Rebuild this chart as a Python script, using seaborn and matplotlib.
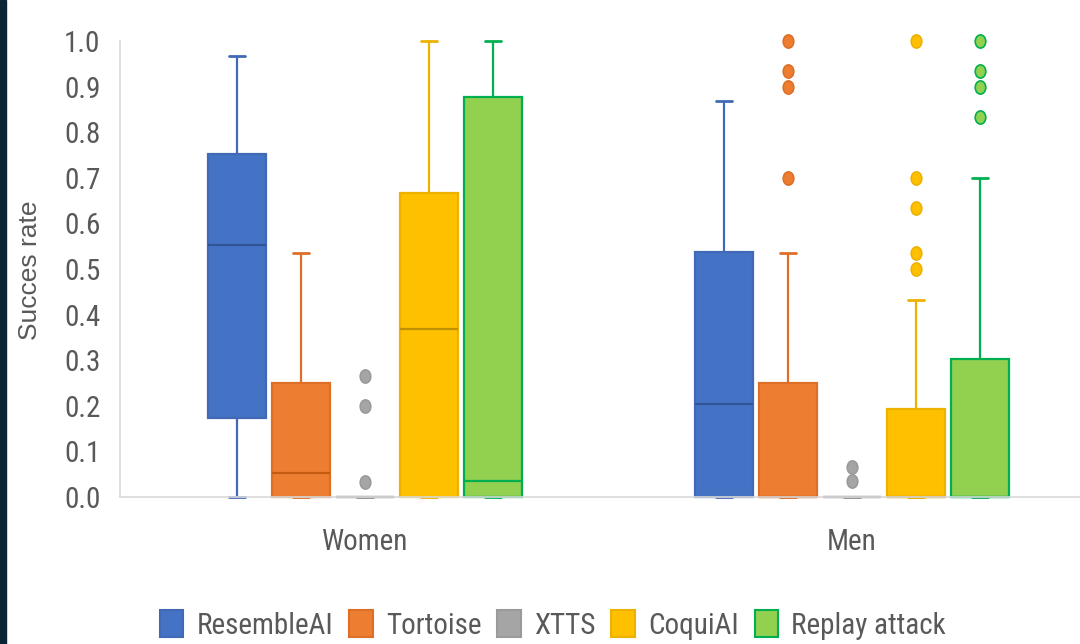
import numpy as np
import pandas as pd
import matplotlib
matplotlib.use("Agg")
import matplotlib.pyplot as plt
from matplotlib import font_manager
from matplotlib.patches import Patch, Rectangle
from matplotlib.path import Path
from matplotlib.transforms import Affine2D
import seaborn as sns

# ---- data: five-number summaries and outliers per voice-cloning method ----
groups = ["Women", "Men"]
methods = ["ResembleAI", "Tortoise", "XTTS", "CoquiAI", "Replay attack"]

women_lo = [0.0, 0.0, 0.0, 0.0, 0.0]
women_q1 = [0.173, 0.0, 0.0, 0.0, 0.0]
women_med = [0.553, 0.052, 0.0, 0.368, 0.035]
women_q3 = [0.752, 0.25, 0.0, 0.667, 0.877]
women_hi = [0.967, 0.535, 0.0, 1.0, 1.0]
women_out = [[], [], [0.265, 0.20, 0.033], [], []]

men_lo = [0.0, 0.0, 0.0, 0.0, 0.0]
men_q1 = [0.0, 0.0, 0.0, 0.0, 0.0]
men_med = [0.204, 0.0, 0.0, 0.0, 0.0]
men_q3 = [0.537, 0.25, 0.0, 0.193, 0.303]
men_hi = [0.868, 0.535, 0.0, 0.432, 0.70]
men_out = [[], [0.70, 0.90, 0.934, 1.0], [0.035, 0.065],
           [0.50, 0.535, 0.634, 0.70, 1.0], [0.833, 0.90, 0.934, 1.0]]

y_ticks = [0.0, 0.1, 0.2, 0.3, 0.4, 0.5, 0.6, 0.7, 0.8, 0.9, 1.0]

fills = ["#4472C4", "#ED7D31", "#A5A5A5", "#FFC000", "#92D050"]
edges = ["#4169B5", "#DE6F26", "#9A9A9A", "#EDB200", "#00B050"]
medians = ["#2F5597", "#C55A11", "#8A8A8A", "#BF9000", "#00B050"]

# Each box is built from its summary: quartile values are weighted so that
# the outliers leave the quartiles untouched.
WEIGHT = 40
rows = []
summaries = {
    "Women": (women_lo, women_q1, women_med, women_q3, women_hi, women_out),
    "Men": (men_lo, men_q1, men_med, men_q3, men_hi, men_out),
}
for g in groups:
    lo, q1, med, q3, hi, out = summaries[g]
    for i, m in enumerate(methods):
        vals = [lo[i]] + [q1[i]] * WEIGHT + [med[i]] * WEIGHT + [q3[i]] * WEIGHT + [hi[i]] + list(out[i])
        rows += [(g, m, v) for v in vals]
df = pd.DataFrame(rows, columns=["group", "method", "rate"])

# ---- style: prefer a condensed sans face, else Lato at a smaller size ----
sns.set_theme(style="white")
fonts = font_manager.fontManager.ttflist
names = {f.name for f in fonts}
condensed = None
for cand in ["Liberation Sans Narrow", "Roboto Condensed", "Open Sans Condensed"]:
    if cand in names:
        condensed = (cand, "normal")
        break
if condensed is None:
    for cand in ["Noto Sans", "DejaVu Sans", "Roboto", "Open Sans"]:
        if any(f.name == cand and f.stretch in ("condensed", "semi-condensed", 500, 300)
               for f in fonts):
            condensed = (cand, "condensed")
            break
if condensed is not None:
    main_family, main_stretch, main_size = condensed[0], condensed[1], 21
else:
    main_family, main_stretch, main_size = "Lato", "normal", 18.5
plt.rcParams["font.family"] = [main_family, "DejaVu Sans"]
plt.rcParams["font.stretch"] = main_stretch
text_color = "#595959"

fig = plt.figure(figsize=(10.8, 6.44), dpi=100)
fig.patch.set_facecolor("white")
ax = fig.add_axes([120 / 1080, 1 - 497 / 644, 960 / 1080, 456 / 644])

sns.boxplot(data=df, x="group", y="rate", hue="method", order=groups,
            hue_order=methods, palette=fills, width=0.657, gap=0.08,
            whis=1.5, linewidth=1.5, fliersize=9, legend=False, ax=ax)

ellipse = Path.unit_circle().transformed(Affine2D().scale(0.8, 1.0))
cap_half = 0.017
for i, cont in enumerate(ax.containers):
    for box in cont.boxes:
        box.set_facecolor(fills[i])
        box.set_edgecolor(edges[i])
        box.set_linewidth(1.6)
        box.set_clip_on(False)
    for ln in cont.whiskers:
        ln.set_color(edges[i])
        ln.set_linewidth(1.6)
        ln.set_clip_on(False)
    for ln in cont.caps:
        ln.set_color(edges[i])
        ln.set_linewidth(2.0)
        ln.set_clip_on(False)
        xd = np.asarray(ln.get_xdata(), dtype=float)
        c = xd.mean()
        ln.set_xdata([c - cap_half, c + cap_half])
    for ln in cont.medians:
        ln.set_color(medians[i])
        ln.set_linewidth(1.6)
        ln.set_clip_on(False)
    for ln in cont.fliers:
        ln.set_marker(ellipse)
        ln.set_markersize(9.5)
        ln.set_markerfacecolor(fills[i])
        ln.set_markeredgecolor(edges[i])
        ln.set_markeredgewidth(1.2)
        ln.set_clip_on(False)

ax.set_xlim(-0.503, 1.468)
ax.set_ylim(0, 1)
ax.set_yticks(y_ticks)
ax.set_yticklabels([f"{t:.1f}" for t in y_ticks])
ax.set_xlabel("")
ax.set_ylabel("")
ax.tick_params(axis="y", length=0, pad=14, labelsize=main_size, labelcolor=text_color)
ax.tick_params(axis="x", length=0, pad=22, labelsize=main_size, labelcolor=text_color)
for side in ["top", "right"]:
    ax.spines[side].set_visible(False)
ax.spines["left"].set_color("#D9D9D9")
ax.spines["bottom"].set_color("#D9D9D9")
ax.spines["left"].set_linewidth(1.2)
ax.spines["bottom"].set_linewidth(1.2)
ax.set_facecolor("white")

fig.text(30 / 1080, 1 - 270 / 644, "Succes rate", rotation=90, ha="center",
         va="center", fontsize=19, color=text_color, fontstretch="normal",
         family=["Liberation Sans", "DejaVu Sans"])

handles = [Patch(facecolor=fills[i], edgecolor=edges[i], linewidth=1.5, label=m)
           for i, m in enumerate(methods)]
fig.legend(handles=handles, loc="center", bbox_to_anchor=(553 / 1080, 1 - 625 / 644),
           ncol=5, frameon=False, fontsize=main_size, labelcolor=text_color,
           handlelength=0.8, handleheight=1.05, handletextpad=0.45, columnspacing=0.55)

# dark border strip along the left edge
fig.patches.append(Rectangle((0, 0), 6 / 1080, 1, transform=fig.transFigure,
                             color="#0B2536", zorder=10))

fig.savefig("out.png", dpi=100)
